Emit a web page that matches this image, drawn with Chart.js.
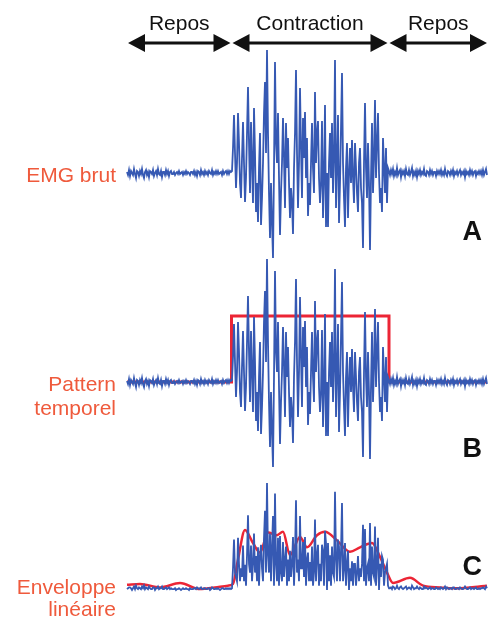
<!DOCTYPE html>
<html>
<head>
<meta charset="utf-8">
<script src="https://cdn.jsdelivr.net/npm/chart.js@4/dist/chart.umd.min.js"></script>
<style>
  body { margin: 0; background: #fff; }
  #wrap { position: relative; width: 488px; height: 620px; overflow: hidden; }
  canvas { position: absolute; left: 0; }
</style>
</head>
<body>
<div id="wrap">
  <canvas id="emgA" width="488" height="258" style="top:0"></canvas>
  <canvas id="emgB" width="488" height="222" style="top:258px"></canvas>
  <canvas id="emgC" width="488" height="142" style="top:478px"></canvas>
</div>
<script>
// raw EMG, one sample per step
const restBefore = [1,-2,3,-3,2,0,-2,4,-1,-5,2,1,-3,2,-1,4,-2,-5,1,3,-2,1,-4,2,1,-1,3,-3,0,2,-2,4,-1,-2,2,-4,1,1,-2,3,-1,2,-3,1,2,-1,-1,1,-2,0,1,-1,2,-1,0,1,-2,1,-1,2,-1,1,0,-2,1,1,-1,2,-2,1,-3,2,1,-2,3,-1,1,-2,2,-1,1,-2,2,0,-1,3,-2,1,-1,2,-1,2,-1,0,1,-2,2,-1,1,2,-1,2,-1,2,1];
const contraction = [
  2,25,58,20,-15,10,60,30,-10,-25,
  15,51,10,-29,-5,40,86,30,-20,51,
  10,-30,65,20,-39,-10,-49,5,40,-52,
  -25,10,60,91,20,123,40,-20,-65,-10,
  -50,-85,5,111,30,10,60,-5,-62,-20,
  10,55,15,-35,50,5,35,-10,-45,-15,
  -30,-61,5,40,103,20,-35,10,85,25,
  -25,55,15,61,-5,35,-43,-10,-32,10,
  50,5,-20,81,10,40,52,-5,-30,-10,
  52,-45,-5,68,-54,0,-54,10,40,-5,
  50,-20,15,113,-35,10,58,-50,-10,45,
  100,10,-25,-54,5,30,-45,0,25,-10,
  33,-5,-30,30,5,-20,-39,10,25,-15,
  -30,-75,10,70,5,-25,30,-10,-77,-5,
  50,-20,15,73,-5,30,60,0,-30,-15,
  -39,35,5,-20,25,-30,5];
const restAfter = [2,-2,3,-1,4,-3,1,-2,5,-2,1,3,-4,2,-1,2,-3,4,-1,-2,3,-2,1,5,-3,1,-2,2,-4,2,-1,3,-2,1,-1,4,-2,-3,2,1,-2,3,-1,2,-2,1,1,-3,2,-1,2,-1,3,-2,1,-2,4,-1,-3,2,1,-2,2,-1,3,-3,1,-1,2,-2,1,3,-2,1,-1,2,-4,2,-1,1,-2,3,-1,2,-2,1,2,-3,1,-1,2,-1,2,-2,3,-2,1,4,-2];
const emgRaw = [...restBefore, ...contraction, ...restAfter];

// on/off pattern (panel B)
const patternTime = [0, 104.5, 104.5, 262, 262, 360];
const patternLevel = [0, 0, 66, 66, 0, 0];

// linear envelope (panel C)
const envelopeTime = [0,13,33,53,73,88,101,106,111,118,126,133,141,150,156,163,173,180,190,198,210,223,233,245,253,260,266,283,296,313,326,343,360];
const envelopeValue = [6,7,3,8,1,3,5,7,35,69,54,43,66,63,67,40,61,49,63,67,57,44,49,54,38,20,8,14,5,3,2,3,5];

const phaseNames = ["Repos", "Contraction", "Repos"];
const phaseBounds = [0, 104.5, 261.5, 361];

const blue = "#3659b3";
const red = "#ec2535";
const labelRed = "#ef5a3c";
const font = "'Liberation Sans', Arial, Helvetica, sans-serif";

const pts = (xs, ys) => ys.map((y, i) => ({ x: xs[i], y: y }));
const idx = emgRaw.map((_, i) => i);

function baseOptions(yMin, yMax, pad) {
  return {
    responsive: false,
    animation: false,
    layout: { padding: pad },
    plugins: { legend: { display: false }, tooltip: { enabled: false } },
    scales: {
      x: { type: "linear", min: 0, max: 360, display: false },
      y: { min: yMin, max: yMax, display: false }
    },
    elements: { point: { radius: 0 } }
  };
}

function signal(values, width) {
  return { data: pts(idx, values), borderColor: blue, borderWidth: width, tension: 0, clip: false };
}

// draws free text on a panel
const panelText = {
  id: "panelText",
  afterDraw(chart, args, opts) {
    const ctx = chart.ctx;
    ctx.save();
    (opts.items || []).forEach(t => {
      ctx.font = t.font;
      ctx.fillStyle = t.color;
      ctx.textAlign = t.align;
      ctx.textBaseline = "alphabetic";
      ctx.fillText(t.text, t.x, t.y);
    });
    ctx.restore();
  }
};

// double headed arrows for the phases
const phaseArrows = {
  id: "phaseArrows",
  afterDraw(chart) {
    const ctx = chart.ctx;
    const xs = chart.scales.x;
    const y = 43;
    ctx.save();
    ctx.fillStyle = "#111";
    ctx.strokeStyle = "#111";
    ctx.lineWidth = 3;
    for (let i = 0; i < phaseNames.length; i++) {
      const a = xs.getPixelForValue(phaseBounds[i]) + 1;
      const b = Math.min(xs.getPixelForValue(phaseBounds[i + 1]) - 1, 488);
      ctx.beginPath();
      ctx.moveTo(a + 10, y);
      ctx.lineTo(b - 10, y);
      ctx.stroke();
      ctx.beginPath();
      ctx.moveTo(a, y); ctx.lineTo(a + 17, y - 9); ctx.lineTo(a + 17, y + 9); ctx.closePath();
      ctx.moveTo(b, y); ctx.lineTo(b - 17, y - 9); ctx.lineTo(b - 17, y + 9); ctx.closePath();
      ctx.fill();
      ctx.font = "21px " + font;
      ctx.textAlign = "center";
      ctx.fillText(phaseNames[i], (a + b) / 2, 30);
    }
    ctx.restore();
  }
};

const optA = baseOptions(-85, 128, { left: 127, right: 1, top: 45, bottom: 0 });
optA.plugins.panelText = { items: [
  { text: "EMG brut", x: 116, y: 182, align: "right", font: "21px " + font, color: labelRed },
  { text: "A", x: 482, y: 240, align: "right", font: "bold 27px " + font, color: "#111" }
]};
new Chart(document.getElementById("emgA"), {
  type: "line",
  data: { datasets: [signal(emgRaw, 1.8)] },
  options: optA,
  plugins: [panelText, phaseArrows]
});

const optB = baseOptions(-98, 124, { left: 127, right: 1, top: 0, bottom: 0 });
optB.plugins.panelText = { items: [
  { text: "Pattern", x: 116, y: 133, align: "right", font: "21px " + font, color: labelRed },
  { text: "temporel", x: 116, y: 157, align: "right", font: "21px " + font, color: labelRed },
  { text: "B", x: 482, y: 199, align: "right", font: "bold 27px " + font, color: "#111" }
]};
new Chart(document.getElementById("emgB"), {
  type: "line",
  data: { datasets: [
    signal(emgRaw, 1.8),
    { data: pts(patternTime, patternLevel), borderColor: red, borderWidth: 3, tension: 0, clip: false }
  ] },
  options: optB,
  plugins: [panelText]
});

const optC = baseOptions(-9.2, 128.7, { left: 127, right: 1, top: 0, bottom: 22 });
optC.plugins.panelText = { items: [
  { text: "Enveloppe", x: 116, y: 116, align: "right", font: "21px " + font, color: labelRed },
  { text: "linéaire", x: 116, y: 138, align: "right", font: "21px " + font, color: labelRed },
  { text: "C", x: 482, y: 97, align: "right", font: "bold 27px " + font, color: "#111" }
]};
new Chart(document.getElementById("emgC"), {
  type: "line",
  data: { datasets: [
    signal(emgRaw.map(Math.abs), 1.8),
    { data: pts(envelopeTime, envelopeValue), borderColor: red, borderWidth: 2.5, tension: 0.4, cubicInterpolationMode: "monotone", clip: false }
  ] },
  options: optC,
  plugins: [panelText]
});
</script>
</body>
</html>
